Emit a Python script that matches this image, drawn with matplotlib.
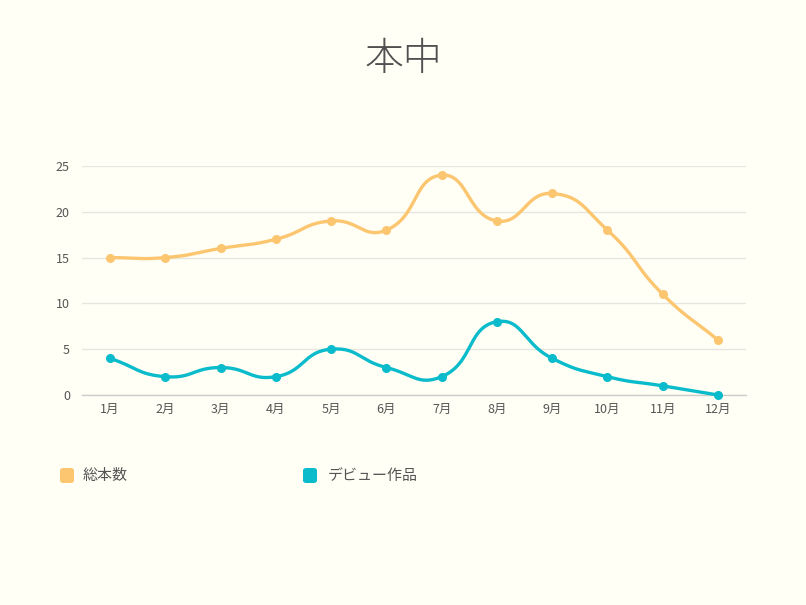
import numpy as np
import matplotlib
matplotlib.use("Agg")
import matplotlib.pyplot as plt
from matplotlib.patches import FancyBboxPatch

plt.rcParams['font.family'] = ['Noto Sans CJK JP', 'DejaVu Sans']

title = "本中"
months = ["1月", "2月", "3月", "4月", "5月", "6月", "7月", "8月", "9月", "10月", "11月", "12月"]
total = [15, 15, 16, 17, 19, 18, 24, 19, 22, 18, 11, 6]
debut = [4, 2, 3, 2, 5, 3, 2, 8, 4, 2, 1, 0]
series_names = ["総本数", "デビュー作品"]
colors = ["#FCC671", "#0ABBCB"]
yticks = [0, 5, 10, 15, 20, 25]

BG = "#FFFFF5"
W, H = 806, 605
fig = plt.figure(figsize=(W / 100, H / 100), dpi=100, facecolor=BG)
ax = fig.add_axes([82.4 / W, 1 - 395 / H, (745.6 - 82.4) / W, (395 - 166) / H])
ax.set_facecolor(BG)

xs = np.arange(len(months))
ax.set_xlim(-0.5, len(months) - 0.5)
ax.set_ylim(0, 25)

# pixel scales for smoothing
sx = (745.6 - 82.4) / len(months)
sy = (395 - 166) / 25.0


def smooth_curve(x, y, smooth=0.5, n=30):
    px = np.asarray(x, float) * sx
    py = np.asarray(y, float) * sy
    pts = np.column_stack([px, py])
    m = len(pts)
    cps = []
    for i in range(m):
        p = pts[i]
        prev = pts[i - 1] if i > 0 else p
        nxt = pts[i + 1] if i < m - 1 else p
        v = nxt - prev
        d0 = np.linalg.norm(p - prev)
        d1 = np.linalg.norm(p - nxt)
        s = d0 + d1
        if s == 0:
            cps.append((p, p))
            continue
        c0 = p - v * smooth * d0 / s
        c1 = p + v * smooth * d1 / s
        cps.append((c0, c1))
    out = [pts[0]]
    t = np.linspace(0, 1, n)[1:]
    for i in range(m - 1):
        p0 = pts[i]
        p1 = cps[i][1]
        p2 = cps[i + 1][0]
        p3 = pts[i + 1]
        seg = ((1 - t) ** 3)[:, None] * p0 + (3 * (1 - t) ** 2 * t)[:, None] * p1 + \
              (3 * (1 - t) * t ** 2)[:, None] * p2 + (t ** 3)[:, None] * p3
        out.extend(seg)
    out = np.array(out)
    return out[:, 0] / sx, out[:, 1] / sy


for vals, c in zip([total, debut], colors):
    cx, cy = smooth_curve(xs, vals)
    ax.plot(cx, cy, color=c, lw=2.4, solid_capstyle='round', zorder=3, clip_on=False)
    ax.plot(xs, vals, 'o', color=c, ms=5.5, zorder=4, clip_on=False)

ax.set_yticks(yticks)
ax.set_yticklabels([str(v) for v in yticks])
ax.set_xticks(xs)
ax.set_xticklabels(months)
ax.grid(axis='y', color='#E6E6E0', lw=1)
ax.set_axisbelow(True)
for s in ['top', 'right', 'left']:
    ax.spines[s].set_visible(False)
ax.spines['bottom'].set_color('#CCCCCC')
ax.spines['bottom'].set_linewidth(1)
ax.tick_params(axis='both', length=0, labelsize=9, labelcolor='#555555')
ax.tick_params(axis='x', pad=6)
ax.tick_params(axis='y', pad=9)

fig.text(0.5, 1 - 59 / H, title, ha='center', va='center', fontsize=28,
         color='#505050', fontweight='light')

# legend
leg_x = [60, 303]
leg_tx = [83, 328]
for name, c, bx, tx in zip(series_names, colors, leg_x, leg_tx):
    p = FancyBboxPatch((bx / W, 1 - 483 / H), 14 / W, 15 / H,
                       boxstyle="round,pad=0,rounding_size=0.004",
                       transform=fig.transFigure, facecolor=c, edgecolor='none')
    fig.patches.append(p)
    fig.text(tx / W, 1 - 476 / H, name, ha='left', va='center', fontsize=10.8, color='#555555')

fig.savefig("out.png", dpi=100, facecolor=BG)
